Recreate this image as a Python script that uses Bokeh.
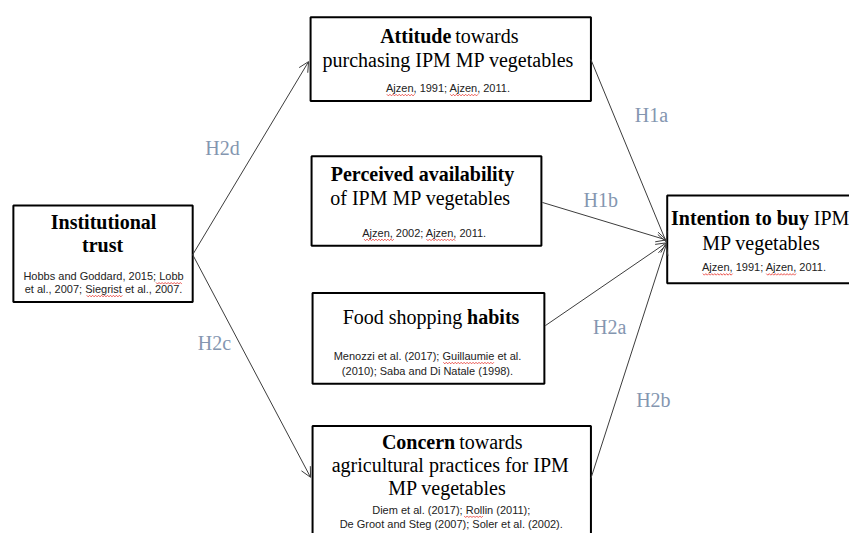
import numpy as np
from bokeh.plotting import figure
from bokeh.models import Range1d, ColumnDataSource, Arrow, OpenHead
from bokeh.core.properties import value
from bokeh.embed import file_html
from bokeh.resources import INLINE

# ---- boxes (pixel coordinates of the diagram) ----
box_names = ["Institutional trust", "Attitude", "Perceived availability",
             "Food shopping habits", "Concern", "Intention to buy"]
box_left = [13, 313, 314, 315, 315, 673]
box_right = [194, 596, 546, 549, 596, 880]
box_top = [208, 17, 158, 297, 432, 198]
box_bottom = [306, 102, 249, 389, 570, 287]

# ---- arrows (hypothesis paths) ----
arrow_x0 = [194, 194, 596, 547, 550, 596]
arrow_y0 = [258, 258, 60, 205, 330, 485]
arrow_x1 = [311, 313, 672, 672, 672, 672]
arrow_y1 = [62, 484, 245, 243, 246, 248]

# ---- hypothesis labels ----
hyp_labels = ["H2d", "H2c", "H1a", "H1b", "H2a", "H2b"]
hyp_x = [224, 216, 657, 606, 615, 659]
hyp_y = [150, 348, 116, 203, 331, 406]

# ---- bold segments (y = text middle) ----
bold_text = ["Institutional", "trust", "Attitude", "Perceived availability",
             "habits", "Concern", "Intention to buy"]
bold_x = [104, 103, 455, 426, 471, 459, 816]
bold_y = [225, 248, 36, 176, 321, 448, 221]
bold_align = ["center", "center", "right", "center", "left", "right", "right"]

# ---- regular serif segments ----
reg_text = ["towards", "purchasing IPM MP vegetables", "of IPM MP vegetables",
            "Food shopping", "towards", "agricultural practices for IPM",
            "MP vegetables", "IPM", "MP vegetables"]
reg_x = [459, 452, 424, 466, 463, 454, 451, 821, 768]
reg_y = [36, 60, 200, 321, 448, 471, 495, 221, 246]
reg_align = ["left", "center", "center", "right", "left", "center", "center",
             "left", "center"]

# ---- citations ----
cite_text = ["Hobbs and Goddard, 2015; Lobb", "et al., 2007; Siegrist et al., 2007.",
             "Ajzen, 1991; Ajzen, 2011.", "Ajzen, 2002; Ajzen, 2011.",
             "Menozzi et al. (2017); Guillaumie et al.",
             "(2010); Saba and Di Natale (1998).",
             "Diem et al. (2017); Rollin (2011);",
             "De Groot and Steg (2007); Soler et al. (2002).",
             "Ajzen, 1991; Ajzen, 2011."]
cite_x = [104, 104, 452, 428, 431, 431, 455, 455, 771]
cite_y = [280, 293, 89, 236, 361, 376, 517, 531, 271]

# ---- spell-check underlines (word spans) ----
sq_x0 = [157, 87, 390, 454, 367, 430, 709, 773, 447, 468]
sq_x1 = [183, 123, 418, 482, 397, 459, 739, 803, 498, 487]
sq_y = [287, 300, 96, 96, 243, 243, 278, 278, 368, 524]

p = figure(width=849, height=533, output_backend="svg", toolbar_location=None,
           x_range=Range1d(0, 857), y_range=Range1d(541, 0),
           min_border=0, background_fill_color="white")
p.axis.visible = False
p.grid.visible = False
p.outline_line_color = None

for x0, y0, x1, y1 in zip(arrow_x0, arrow_y0, arrow_x1, arrow_y1):
    p.add_layout(Arrow(end=OpenHead(size=10, line_color="#3c3c3c", line_width=1),
                       x_start=x0, y_start=y0, x_end=x1, y_end=y1,
                       line_color="#3c3c3c", line_width=1))

p.quad(left=box_left, right=box_right, top=box_top, bottom=box_bottom,
       fill_color="white", line_color="black", line_width=2)

# wavy red underlines
xs, ys = [], []
for a, b, yy in zip(sq_x0, sq_x1, sq_y):
    n = int((b - a) / 1.5) + 1
    wx = np.linspace(a, b, n)
    wy = yy + np.where(np.arange(n) % 2 == 0, -0.8, 0.8)
    xs.append(list(wx))
    ys.append(list(wy))
p.multi_line(xs=xs, ys=ys, line_color="#e8403a", line_width=1, line_alpha=0.85)

p.text(x=hyp_x, y=hyp_y, text=hyp_labels, text_font=value("Liberation Serif"),
       text_font_size="20px", text_color="#8496b0", text_align="center",
       text_baseline="middle")

p.text(source=ColumnDataSource(dict(x=bold_x, y=bold_y, t=bold_text, a=bold_align)),
       x="x", y="y", text="t", text_align="a", text_font=value("Liberation Serif"),
       text_font_style="bold", text_font_size="20px", text_color="black",
       text_baseline="middle")

p.text(source=ColumnDataSource(dict(x=reg_x, y=reg_y, t=reg_text, a=reg_align)),
       x="x", y="y", text="t", text_align="a", text_font=value("Liberation Serif"),
       text_font_size="20px", text_color="black", text_baseline="middle")

p.text(x=cite_x, y=cite_y, text=cite_text, text_font=value("Liberation Sans"),
       text_font_size="11px", text_color="#222222", text_align="center",
       text_baseline="middle")

open("out.html", "w").write(file_html(p, INLINE))
